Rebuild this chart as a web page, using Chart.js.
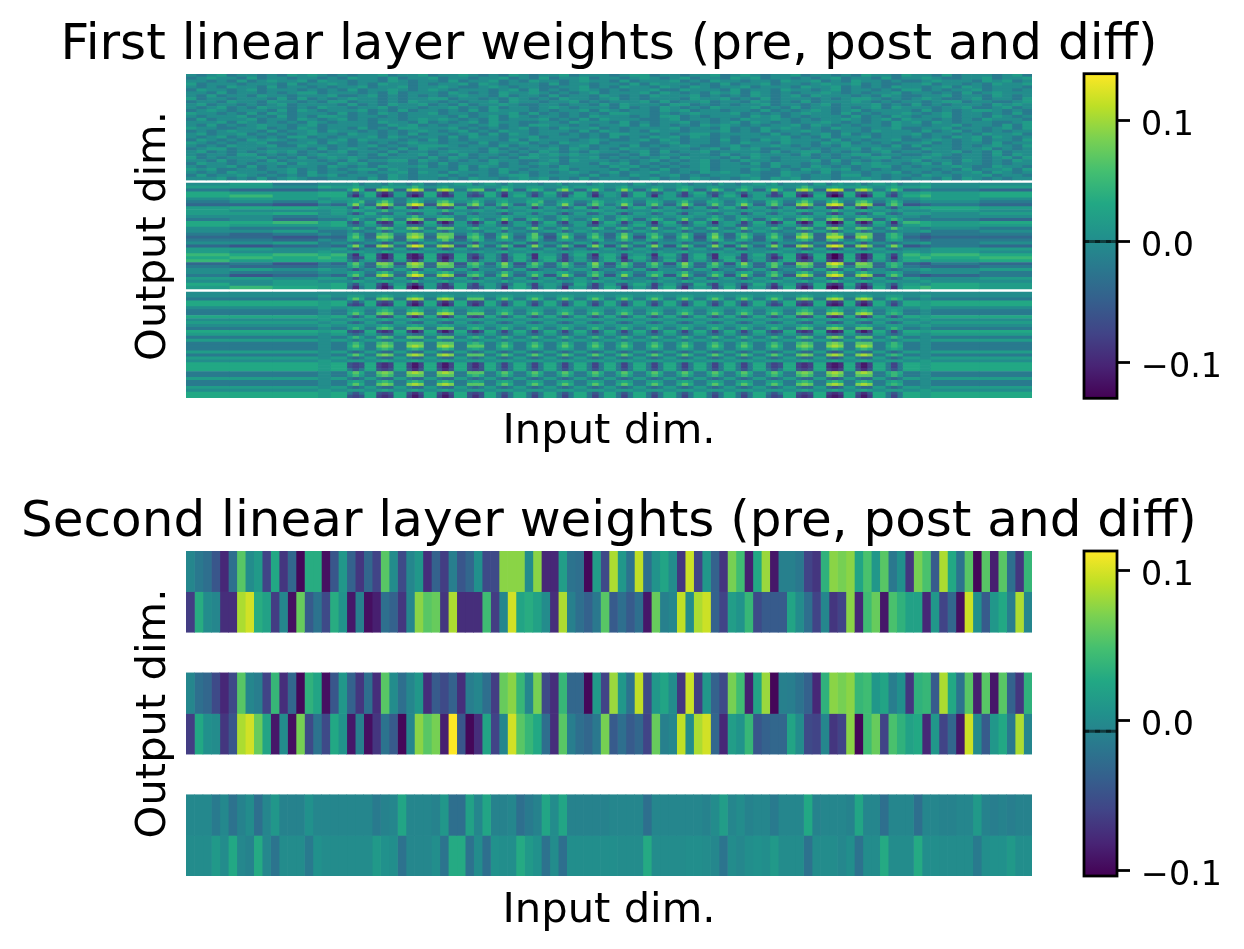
<!DOCTYPE html>
<html>
<head>
<meta charset="utf-8">
<title>Linear layer weights</title>
<script src="https://cdn.jsdelivr.net/npm/chart.js@4"></script>
<style>
  html, body { margin: 0; background: #fff; }
  canvas { position: absolute; }
</style>
</head>
<body>
<canvas id="first-heat" width="1218" height="470" style="left:0;top:0"></canvas>
<canvas id="first-bar" width="184" height="350" style="left:1060px;top:60px"></canvas>
<canvas id="second-heat" width="1218" height="479" style="left:0;top:470px"></canvas>
<canvas id="second-bar" width="184" height="350" style="left:1060px;top:540px"></canvas>
<script>
const firstTitle = "First linear layer weights (pre, post and diff)";
const secondTitle = "Second linear layer weights (pre, post and diff)";
const xLabel = "Input dim.";
const yLabel = "Output dim.";
const colorbarTicks = [-0.1, 0, 0.1];
const firstRange = [-0.13, 0.139];
const secondRange = [-0.1035, 0.113];
const firstMeanLine = 0.0;
const secondMeanLine = -0.007;

const viridis = ["#440154", "#482475", "#414487", "#355f8d", "#2a788e", "#21918c", "#22a884", "#44bf70", "#7ad151", "#bddf26", "#fde725"];

// first layer: one hex digit per cell, picks a weight out of firstLevels. spaces are only for reading
const firstLevels = [-0.13, -0.112, -0.094, -0.076, -0.058, -0.04, -0.02, 0, 0.017, 0.031, 0.049, 0.067, 0.085, 0.103, 0.121, 0.139];

// input dim. edges of the pre band cells
const preColumnCount = 84;
// input dim. edges of the post and diff band cells, narrow ones sit on the stripes
const bandColumnEdges = [0, 40, 80, 122, 134, 149,
  154, 160, 165, 176, 181, 187, 192, 204, 209, 215, 220, 232, 237, 243, 248,
  260, 265, 271, 276, 287, 292, 298, 303, 315, 320, 326, 331, 343, 348, 354, 359,
  371, 376, 382, 387, 398, 403, 409, 414, 426, 431, 437, 442, 454, 459, 465, 470,
  482, 487, 493, 498, 509, 514, 520, 525, 537, 542, 548, 553, 565, 570, 576, 581,
  593, 598, 604, 609, 620, 625, 631, 636, 648, 653, 659, 664, 680, 690, 735, 784];

const firstPreRows = [
  "767867767687 876767786778 677876768767 786777678867 767786787677 867767687768 776867776786",
  "678776867767 767687768677 867767786768 677867767876 786776878677 676786776867 787667786778",
  "776768678778 687767768767 768677867687 767877686777 867687767768 778676877676 678777687867",
  "867776777686 778767687767 677868767776 867767768687 776768677867 767877867667 786776768778",
  "767687768677 676778677867 787667876776 677867687768 768767786777 687786767687 767868767776",
  "687767867776 767686778767 876777678686 767876767786 687776867768 776786776768 867677867767",
  "776867767678 867776768677 768767687787 676786777868 767687868767 677876767786 776768678777",
  "768677687767 778667867676 767877686776 867768767687 778676768767 868777676876 677867768767",
  "867767776868 676787767677 886776768767 687767867677 768778676867 776767887676 787667867768",
  "677687768776 768867767687 767677868776 778676777868 677867768767 686777876767 767886776678",
  "786776767867 777686768778 676867787667 767768687776 886767677867 767867778676 867677768787",
  "767867687767 687767786776 778676867767 876777686768 767687778676 867767678687 776778667867",
  "678767776868 767778676867 767686877767 677868767768 786776776867 678767867777 686767887676",
  "877676868767 776867687677 867767778686 767676887767 678777867676 787768676778 767867767686",
  "767778676867 688767767677 776867868767 767687776768 867677768786 767776867687 677867768767",
  "686777867768 767867677678 787676867778 676868777667 867767687787 676778767868 776767687776",
  "777868767676 876777687768 676786877667 768777686767 786767868767 677876767687 868767776678",
  "768676787767 867777668786 767767867688 776767786867 676878767677 868767677687 767786776868",
  "877667786768 767768676887 778676767867 687786767777 867768676878 767687767786 677867767868",
  "676787768677 868776767678 767867687767 776868767687 767778676867 787667768777 686786767677",
  "786778676767 877687767686 776786868767 767676887767 678867777686 767868676777 867767687786",
  "767867767688 676777868767 768687767786 777676867687 868767677778 676867786776 767687868767",
  "687676878767 767868777676 867677768687 776787667868 767768676878 777686767786 678767867768",
  "876767786677 868767676787 767768677867 687786777667 867767687768 776878676767 786767768677",
  "767687778668 776767867678 887677686776 767867768676 787667867787 676768777686 867767678768",
  "678867767777 686787676868 767776867677 868767687767 776786878667 767677868776 687767786767",
  "786767678786 767867768677 678776876768 767687767868 677867777686 788676767867 767786768677",
  "767768867676 787767686778 676867767687 878776676867 767768678777 686767886776 678767768687",
  "867677786768 678787667776 868767676887 767786767678 687776868767 776767678867 787667767868",
  "776867768677 767686778868 767676877667 868777676786 767867687767 778686767677 867768767687",
  "687767677868 776878667767 686777867678 767768786767 677867768687 767676878776 786867767677",
  "767786867677 768767687778 676868767767 687776878676 767867777686 768767678867 677787668776",
  "878667767786 767678868767 776867687677 786777686768 677867768767 687878676767 776768677868",
  "767687776786 867767677868 768777686767 678767867787 676878767668 776867767786 767677868767",
  "686778767676 878677768767 786767678867 777686768767 867677787668 767768867677 687767786776",
  "777867686787 667776868767 767687767878 676867776786 768767678687 867767787676 776868767677"
];

// rows that the diff band repeats, named by how strong the stripes are on them
const diffFlat  = "77777 7777 7777 7777 7777 7777 7777 7777 7777 7777 7777 7777 7777 7777 7777 7777 7777 7777 7777 777 7777";
const diffUp1   = "77787 8887 8987 8987 8987 8887 8887 8887 8887 8887 8887 8887 8887 8887 8887 8887 8987 8987 8987 888 7877";
const diffUp2   = "66676 8986 9a96 9a96 9a96 8986 8986 8986 8986 8986 8986 8986 8986 8986 8986 8986 9a96 9a96 9a96 898 6766";
const diffUp3   = "66676 8a86 aba6 bbb6 bbb6 9a96 8a86 8a86 8a86 8a86 8a86 8a86 8a86 8a86 8a86 8a86 aba6 bcb6 bbb6 8a8 6766";
const diffUp4   = "66676 9b96 bcb6 cdc6 cdc6 bbb6 9b96 9b96 9b96 9b96 9b96 9b96 9b96 9b96 9b96 9b96 bcb6 cdc6 cdc6 9a9 6766";
const diffDown1 = "88878 7678 7668 7668 7668 7678 7678 7678 7678 7678 7678 7678 7678 7678 7678 7678 7668 7568 7668 767 8788";
const diffDown2 = "88878 6568 6558 6558 6558 6568 6568 6568 6568 6568 6568 6568 6568 6568 6568 6568 6558 5458 6558 656 8788";
const diffDown3 = "99989 6469 4349 4249 4249 4349 6469 6469 6469 6469 6469 6469 6469 6469 6469 6469 4349 3239 4249 646 9899";
const diffDown4 = "99989 4349 3239 3139 3139 4249 6369 6369 6369 6369 6369 6369 6369 6369 6369 5349 3239 2129 3139 636 9899";

const firstDiffRows = [
  diffFlat, diffUp1, diffUp4, diffDown3, diffDown4, diffUp1, diffUp2, diffUp4, diffDown3,
  diffUp1, diffDown2, diffUp1, diffUp3, diffDown4, diffDown2, diffUp3, diffDown1, diffUp3,
  diffUp4, diffUp2, diffDown2, diffUp4, diffDown2, diffUp1, diffDown4, diffDown4, diffDown3,
  diffUp4, diffUp3, diffDown2, diffUp2, diffUp4, diffDown2, diffUp1, diffDown3, diffDown4
];

const firstPostRows = [
  "78677 7867 7687 6786 7778 8678 7687 7767 8677 6787 7768 7677 8767 7687 6778 7867 7768 6787 8678 786 7877",
  "88798 8987 7988 8a87 8977 8887 7987 8887 7978 8887 8977 7887 8987 8877 7987 8887 8a87 8988 8987 898 8978",
  "65566 9c94 cdb5 cec5 cdc6 abb5 9b95 9a96 ac85 9b86 9c95 8b96 9a85 8b96 9a85 9c96 cdb5 ded5 cdb6 9b9 5665",
  "98899 6479 4248 4349 4258 5469 6378 6469 5459 6378 7469 6458 6379 5468 6478 7369 4358 3249 4359 647 8989",
  "9a899 5269 3138 3139 3238 4349 6279 6368 5379 6268 7369 6278 5368 6379 7268 5349 3139 2029 3139 537 9a89",
  "78878 8977 7886 8987 8878 7887 8877 8987 7888 8877 7987 8878 8887 7977 8878 8887 7988 8977 8887 887 7887",
  "67687 89a6 9b96 9a86 ab97 8a86 8977 99a6 8986 7a97 8986 9986 8a76 9986 8976 9a86 9b96 9b86 ab96 8a8 6776",
  "55465 9c85 cdb5 ced4 cdc5 ac95 9b85 8b96 9c85 9b96 8c95 9b85 9c95 8b86 9c95 9b85 cdb5 ded5 cdc4 9b9 4565",
  "89988 6379 4259 4258 4349 4468 6478 7368 6469 5378 6379 7468 6368 5479 6378 6468 4358 3239 4268 647 8998",
  "87778 7987 8a77 8988 8a87 7887 8977 8887 7877 8987 8877 7987 8777 8977 7887 8787 9987 8a87 8987 878 7787",
  "88978 6469 6558 5458 6458 6577 6468 7578 6468 5578 6468 7568 6478 6568 7468 6578 6458 5358 5469 656 8878",
  "77677 8887 7987 8a77 8986 8877 7987 8876 8977 7886 8987 7877 8887 7976 8877 8887 8987 9a87 8977 887 7677",
  "67566 8a76 aba6 bcb5 bbb6 9a86 8b85 9a86 8a76 8b86 9a85 8a96 8b76 9a86 8a85 8a96 aba6 bcb6 bbb5 8a8 6665",
  "99a89 5369 3239 2139 3138 4259 6268 6369 5378 6269 7368 6279 5369 6278 7369 5249 3139 2029 3139 627 a989",
  "98889 6568 6448 5558 6458 6478 6568 7478 6568 5478 6579 6468 7568 6578 5468 6578 6459 5358 6458 646 8988",
  "76677 8a86 aba7 bca6 bbb7 9a87 8a76 9b86 8a77 8a96 9a86 8b76 8a86 9a76 8b87 8a86 aba6 bca7 bba6 8b8 7676",
  "77866 7667 7568 7668 6577 7668 7577 6678 7568 7677 6568 7678 7567 6678 7568 7667 6568 6468 7567 667 7867",
  "65676 8a75 aba6 bcb6 bbb6 9a75 8a86 8b65 9a86 8a75 8b86 9a76 8a85 8b75 9a86 8a76 aca5 bca6 bbb5 9a8 6566",
  "55455 9b85 ccb5 cdc5 ccb4 ab95 9c85 9b84 8c95 9b85 9c84 8b95 9b84 9c85 8b95 9b85 cdb5 ddd4 cdb5 9a9 5455",
  "66576 9986 9a85 aa96 9b85 8a96 8986 9a75 8986 7996 8a86 9976 8985 8a96 9975 8986 9a85 ab96 9a95 898 6566",
  "77867 6567 6458 5468 6557 6477 6568 5477 6568 7477 6568 6477 7567 6478 6567 7477 6557 5458 6467 656 7867",
  "54565 9c84 cdb5 ced5 cdc4 ac85 9b94 8c85 9b84 9c94 8b85 9c84 9b95 8c84 9b85 9c84 cdb5 ded4 cdb5 9c9 4565",
  "88778 6467 6558 5468 6458 6567 6478 7568 6467 5578 6468 7567 6478 6568 5477 6578 6458 5358 6468 656 7788",
  "87787 8887 7987 8987 8877 7887 8977 8887 7878 8977 7887 8787 8977 7887 8877 8987 7987 9987 8887 887 8787",
  "a9a9a 5279 3139 2139 3239 4368 6379 6288 6379 5289 7378 6289 6379 5288 7379 5379 3259 2029 3139 637 a9a9",
  "9a9a9 5349 3139 2129 3139 4258 6369 7289 6368 5379 6289 7368 6379 6289 5378 5249 3139 2029 3139 627 9a9a",
  "a8999 6478 4348 4259 4259 5478 6369 6479 5368 6479 7358 6469 5378 6469 7368 5479 4348 3239 4258 647 9889",
  "56465 9b85 ccb4 cdc5 ccb4 ab95 9c84 8b95 9b85 9c84 8b95 9b84 9c95 8b84 9c85 9b94 ccb5 ded4 ccb5 9a9 5465",
  "65566 8a75 aba6 bcb5 bbb5 9a76 8b85 9a75 8a86 8b75 9a85 8a76 8b85 9a76 8a85 8b76 aba5 bca6 bbb5 8a8 6556",
  "78787 6467 5558 6458 6558 6477 6568 5467 6578 7467 6568 5477 6568 7467 5568 6467 6558 5458 6467 656 7878",
  "76677 8986 9a86 9b87 9a96 8986 7a86 8987 9976 8a86 7986 8997 8a76 7986 8996 8a76 9a86 ab96 9a87 898 6776",
  "64565 9b85 cdb5 ced5 cdc4 ab95 9c85 8b84 9c95 9b84 8c85 9b94 9c85 8b94 9c85 9b84 cdb5 ded5 cdc4 9b9 5456",
  "88788 6468 6558 5458 6558 6468 7568 6478 5568 6478 7567 6578 6468 5578 6468 7568 6558 5458 6458 656 8778",
  "77877 7987 8987 8a77 8977 8887 7977 8887 8778 7987 8877 8787 7987 8877 7887 8987 8977 9a87 8987 887 7877",
  "97889 6478 4268 4258 4259 5378 6469 6378 7459 6368 5479 7368 6459 5378 6469 6378 4359 3239 4258 647 8798",
  "8a989 5268 3139 2028 3239 4358 6279 7368 6278 5369 7268 6379 5268 7369 6278 5259 3139 1028 3139 627 9a98"
];

// second layer weights, in hundredths
const secondPre0 = [-0.5, -1.7, -2.5, -4.6, -8, -2.5, 5.6, 0, 1.3, -6, 2.6, -7, -3.2, -10, 3, 3, -9.5, -4.6, 1, -3.6, -7, -3.2, -6, 5.6, 0, -5.5, -0.5, 1, -7.5, -3.6, -6.5, -1.2, -4.6, -3.2, 0.4, -5.5, -5.5, 7.5, 7.5, 7.5, 0, 7.5, -8, -8, 1.6, -2.1, -2.5, -10, 1.6, -5.5,
  8.6, 1, -2.1, 9.2, -2.5, 0.7, 2.3, 0, -7, 9.6, -6, 1, -3.6, -7, 6.8, 4.5, -8.5, 2.6, 8, -9, -1, -1, -1.7, -6, -7, 3.5, 7.5, 6.8, 7.5, 2.3, 5, 1, 5.6, -1.7, 0.4, -7, 6.8, 5, -4.2, 8.6, 2.6, -2.1, 5.6, -10, 5.6, -8.5, 5.6, -2.5, -7, 4];
const secondPre1 = [-6.5, 3, 0, -0.5, -7.5, -7.5, 8.6, 9.8, 3, 2, -6.5, -0.5, -9.5, 6.2, -4.2, -2.1, -5.5, 3, 0.7, -9, -1, -9.5, -8.5, -2.5, -3.6, -7, -0.5, 7.5, 5.6, 6.2, -7, 8.6, -7.5, -7.5, -7.5, 4.5, -6.5, -0.5, 9.8, 2.3, 3, 2, 0, -7.5, 8.6, -1, -2.5, -3.6, -1.7, 5.6,
  -4.2, -2.5, -4.2, -2.5, -9, 6.2, -1, -0.5, 9.2, 0, 8.6, 9.6, -3.6, -6, 1.6, 0.7, 4, -5.5, -4.2, -4.2, -4.2, 2.3, 0, -2.5, -6, -0.5, -7, -6, 7.5, -8, 4.5, 6.2, -9, 5, 3.5, 2, 2, -8, 1, -6, -3.2, -9.5, 9.6, 0.4, -4.2, 1, 2.6, -1.2, 8.6, -0.5];
const secondPost0 = [-0.5, -2.5, -3.2, -5.5, -8, -5.5, 5.6, -0.5, -1.2, -6, 4, -7.5, -3.2, -10, 3.5, 2.3, -9.5, -4.6, 1, -3.6, -7, -2.5, -7.5, 5.6, 0, -2.5, -0.5, 1, -7.5, -4.2, -5.5, -3.6, -7.5, -1.2, -0.5, -2.5, -6.5, 6.2, 7.5, 4, -0.5, 6.8, -5.5, -7.5, 4, -3.2, -3.2, -10, 1.3, -6,
  8, 1, -2.1, 9.2, -5.5, 1, 2.3, 0, -7, 9.6, -6.5, 1, -3.6, -5.5, 6.8, 4.5, -8.5, 2.3, 8, -10, -1, -1.2, -2.1, -3.6, -8, 3.5, 7.5, 6.8, 7.5, 4, 4.5, 1, 2.3, -1.2, 0.4, -7, 3.5, 4, -4.2, 8.6, 2.6, -2.1, 5.6, -8.5, 5.6, -9, 5.6, -3.6, -7, 3.5];
const secondPost1 = [-6.5, 2.6, 0.4, 0, -7, -4.6, 8.6, 9.8, 6.2, 2.3, -9, 0, -9.5, 6.8, -5.5, -2.1, -5.5, 2.6, 0.7, -9, -1, -9.5, -7, -2.1, -4.2, -10, -0.5, 7.5, 5.6, 6.8, -8.5, 11.3, -4.6, -10, -7.5, 2.3, -6, -0.5, 9.8, 5.6, 4, 2.6, -2.5, -7.5, 5.6, -1.2, -2.5, -3.2, -1.7, 6.8,
  -4.2, -2.5, -4.2, -3.2, -6, 6.2, -1, -0.5, 9.2, 0, 8.6, 9.8, -3.2, -8, 1.6, 0.7, 4, -4.6, -3.6, -3.2, -3.2, 2.3, 0, -5.5, -6, -0.5, -7, -6, 7.5, -10, 4.5, 6.2, -6, 5, 3.5, 2, 2.6, -8, 1, -6, -3.2, -9, 9.6, 0, -4.2, 1, 2.6, -1.7, 8.6, -0.5];
const secondDiff0 = [-0.3, -0.3, -0.3, -1.5, -0.3, -2.2, -0.8, 0, -2.5, -0.5, 1, -0.8, -0.8, -0.8, 0.5, -0.5, -0.5, -0.5, -0.5, -0.5, -0.5, -0.5, -1.5, -0.8, -0.5, 2.4, -0.5, -0.5, -0.5, -0.8, 1, -2.5, -2.5, 2, -0.5, 2.4, -0.8, -0.8, -0.5, -2.5, -1.5, -0.8, 2.4, 0, 2.4, -0.8, -0.8, -0.8, -0.8, -0.8,
  -0.5, -0.5, -0.5, -0.5, -2.5, -0.5, -0.5, -0.5, -0.5, -0.5, -0.5, -0.8, 0, 1.6, -0.5, 0, -0.8, -0.5, -0.5, -1.5, -0.5, -0.5, -0.5, 2.6, -0.8, -0.5, -0.5, -0.5, -0.8, 2.4, -0.5, -0.5, -2.5, -0.5, -0.5, -0.5, -2.5, -0.5, -0.5, -0.8, -0.8, -0.5, -0.5, 1.2, -0.8, -1.2, -0.8, -1.2, -0.8, -0.8];
const secondDiff1 = [0, 0, 0, 1.2, 0, 2.6, -0.4, -0.8, 2.8, -0.4, -2, 0, 0, 0, -1.5, 0.5, 0, 0, 0, 0, 0, 0, 1.2, 0.5, 0.2, -2.2, -0.4, -0.4, -0.4, 0.2, -2, 2.8, 2.8, -2.2, 0, -2.5, 0.5, 0.2, 0.2, 2.8, 1.2, 0.5, -2.2, 0, -2.5, 0.2, 0.2, 0.2, 0.2, 0.2,
  0.2, 0, 0, 0, 2.8, 0, 0, 0, 0, 0.2, 0.2, 0, -0.4, -2, 0, -0.4, 0.2, 0.5, 0.2, 1.2, 0, 0, 0, -2.2, 0, 0, 0, -0.4, 0.2, -2.2, 0, 0, 2.8, 0, 0, 0, 2.8, 0.2, 0.2, 0, 0, 0, 0, -1.5, 0.2, 0.5, 0.5, 1.2, 0.2, 0.2];
// blank rows sit between the bands of the second panel
const secondRows = [secondPre0, secondPre1, null, secondPost0, secondPost1, null, secondDiff0, secondDiff1];

function colorOf(value, range) {
    const t = Math.min(1, Math.max(0, (value - range[0]) / (range[1] - range[0]))) * (viridis.length - 1);
    const i = Math.min(viridis.length - 2, Math.floor(t));
    const a = parseInt(viridis[i].slice(1), 16), b = parseInt(viridis[i + 1].slice(1), 16);
    const f = t - i;
    const mix = (s) => Math.round(((a >> s) & 255) * (1 - f) + ((b >> s) & 255) * f);
    return `rgb(${mix(16)},${mix(8)},${mix(0)})`;
}

// one dataset per column, the bars are floating so a cell runs from edge to edge
function bandDatasets(edges, rows, firstRow, rowCount, range, cellValue) {
    const sets = [];
    for (let c = 0; c < edges.length - 1; c++) {
        const data = new Array(rowCount).fill(null);
        const colors = new Array(rowCount).fill("#fff");
        rows.forEach((row, r) => {
            data[firstRow + r] = [edges[c], edges[c + 1]];
            colors[firstRow + r] = colorOf(cellValue(row, c), range);
        });
        sets.push({ data, backgroundColor: colors, grouped: false, barPercentage: 1, categoryPercentage: 1, yAxisID: "y" });
    }
    return sets;
}

function levelValue(row, c) {
    return firstLevels[parseInt(row.replace(/ /g, "")[c], 16)];
}

function heatmap(id, title, labels, datasets, xMax, titlePad, xHeight, xTitlePad) {
    return new Chart(document.getElementById(id), {
        type: "bar",
        data: { labels, datasets },
        options: {
            indexAxis: "y",
            responsive: false,
            animation: false,
            events: [],
            plugins: {
                legend: { display: false },
                tooltip: { enabled: false },
                title: {
                    display: true,
                    text: title,
                    color: "#000",
                    padding: titlePad,
                    font: { family: "DejaVu Sans", size: 50, weight: "normal", lineHeight: 1.1 }
                }
            },
            scales: {
                x: {
                    type: "linear",
                    min: 0,
                    max: xMax,
                    grid: { display: false },
                    border: { display: false },
                    ticks: { display: false },
                    afterFit: (s) => { s.height = xHeight; },
                    title: {
                        display: true, text: xLabel, color: "#000",
                        padding: { top: 0, bottom: xTitlePad },
                        font: { family: "DejaVu Sans", size: 41.67, lineHeight: 1.2 }
                    }
                },
                y: {
                    reverse: false,
                    grid: { display: false },
                    border: { display: false },
                    ticks: { display: false },
                    afterFit: (s) => { s.width = 186; },
                    title: {
                        display: true, text: yLabel, color: "#000",
                        padding: { top: 129, bottom: 0 },
                        font: { family: "DejaVu Sans", size: 41.67, lineHeight: 1.2 }
                    }
                },
                // empty axis, keeps room on the right so the title can stay full width
                rightRoom: {
                    type: "linear",
                    axis: "y",
                    position: "right",
                    grid: { display: false },
                    border: { display: false },
                    ticks: { display: false },
                    afterFit: (s) => { s.width = 186; }
                }
            }
        }
    });
}

const colorbarFrame = {
    id: "colorbarFrame",
    afterDatasetsDraw(chart, args, opts) {
        const { ctx, chartArea: a, scales } = chart;
        const y = scales.y.getPixelForValue(opts.line);
        ctx.save();
        ctx.lineWidth = 3;
        ctx.strokeStyle = "rgba(0,0,0,0.55)";
        ctx.beginPath();
        ctx.moveTo(a.left, y);
        ctx.lineTo(a.right, y);
        ctx.stroke();
        ctx.setLineDash([5, 6]);
        ctx.strokeStyle = "rgba(0,0,0,0.45)";
        ctx.beginPath();
        ctx.moveTo(a.left, y);
        ctx.lineTo(a.right, y);
        ctx.stroke();
        ctx.setLineDash([]);
        ctx.lineWidth = 2.78;
        ctx.strokeStyle = "#000";
        ctx.strokeRect(a.left, a.top, a.right - a.left, a.bottom - a.top);
        ctx.restore();
    }
};

function colorbar(id, range, line, top, bottom) {
    return new Chart(document.getElementById(id), {
        type: "bar",
        plugins: [colorbarFrame],
        data: {
            labels: [""],
            datasets: [{
                data: [range],
                barPercentage: 1,
                categoryPercentage: 1,
                backgroundColor(c) {
                    const area = c.chart.chartArea;
                    if (!area) return viridis[0];
                    const g = c.chart.ctx.createLinearGradient(0, area.bottom, 0, area.top);
                    viridis.forEach((col, i) => g.addColorStop(i / (viridis.length - 1), col));
                    return g;
                }
            }]
        },
        options: {
            responsive: false,
            animation: false,
            events: [],
            layout: { padding: { left: 24, top, bottom } },
            plugins: { legend: { display: false }, tooltip: { enabled: false }, colorbarFrame: { line } },
            scales: {
                x: { display: false },
                y: {
                    position: "right",
                    min: range[0],
                    max: range[1],
                    afterBuildTicks: (s) => { s.ticks = colorbarTicks.map((value) => ({ value })); },
                    afterFit: (s) => { s.width = 127; s.paddingTop = 0; s.paddingBottom = 0; },
                    border: { display: false },
                    grid: { drawOnChartArea: false, drawTicks: true, tickLength: 13, tickWidth: 2.78, color: "#000" },
                    ticks: {
                        color: "#000",
                        padding: 11,
                        labelOffset: 6,
                        font: { family: "DejaVu Sans", size: 33.33 },
                        callback: (v) => v.toFixed(1).replace("-", "\u2212")
                    }
                }
            }
        }
    });
}

// first panel: pre, a blank row, post, a blank row, diff
const firstRowCount = firstPreRows.length + firstPostRows.length + firstDiffRows.length + 2;
const firstLabels = [];
for (let i = 0; i < firstRowCount; i++) firstLabels.push(i);
const preEdges = [];
for (let i = 0; i <= preColumnCount; i++) preEdges.push(i * 784 / preColumnCount);
const firstSets = [
    ...bandDatasets(preEdges, firstPreRows, 0, firstRowCount, firstRange, levelValue),
    ...bandDatasets(bandColumnEdges, firstPostRows, firstPreRows.length + 1, firstRowCount, firstRange, levelValue),
    ...bandDatasets(bandColumnEdges, firstDiffRows, firstPreRows.length + firstPostRows.length + 2, firstRowCount, firstRange, levelValue)
];
heatmap("first-heat", firstTitle, firstLabels, firstSets, 784, { top: 18.5, bottom: 0.5 }, 72, 13);
colorbar("first-bar", firstRange, firstMeanLine, 13.7, 11.7);

// second panel: 100 input columns
const secondEdges = [];
for (let i = 0; i <= secondPre0.length; i++) secondEdges.push(i);
const secondLabels = secondRows.map((r, i) => i);
const secondSets = [];
secondRows.forEach((row, r) => {
    if (row) secondSets.push(...bandDatasets(secondEdges, [row], r, secondRows.length, secondRange, (v, c) => v[c] / 100));
});
heatmap("second-heat", secondTitle, secondLabels, secondSets, 100, { top: 25.5, bottom: 0.5 }, 73, 13);
colorbar("second-bar", secondRange, secondMeanLine, 11, 14);
</script>
</body>
</html>
